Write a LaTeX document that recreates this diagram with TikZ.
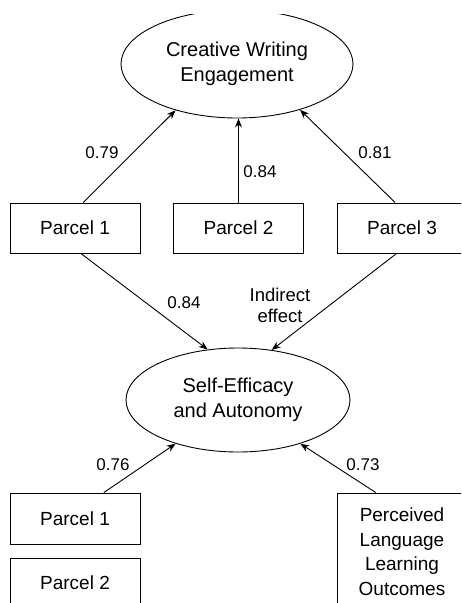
\documentclass[tikz,border=0pt]{standalone}
\usepackage{fontspec}
\setmainfont{Liberation Sans}
\usetikzlibrary{shapes.geometric,arrows.meta}
\begin{document}
\begin{tikzpicture}[x=1pt,y=-1pt,
  lat/.style={ellipse,draw,line width=0.9pt,inner sep=0pt,align=center,font=\fontsize{20}{25}\selectfont},
  obs/.style={rectangle,draw,line width=0.9pt,minimum width=130pt,minimum height=50pt,inner sep=0pt,align=center,font=\fontsize{19}{24.5}\selectfont},
  path/.style={line width=0.9pt,-{Stealth[length=9pt,width=7pt]}},
  coef/.style={font=\fontsize{17}{20}\selectfont,inner sep=0pt},
  note/.style={font=\fontsize{18.5}{21}\selectfont,inner sep=0pt,align=center}]
\useasboundingbox (0,0) rectangle (461,603);
\fill[white] (0,0) rectangle (461,603);
\clip (0,14) rectangle (461,603);
% latent variables
\node[lat,minimum width=232pt,minimum height=108pt] (cwe) at (237,64) {Creative Writing\\Engagement};
\node[lat,minimum width=224pt,minimum height=104pt] (sea) at (238,400) {Self-Efficacy\\and Autonomy};
% observed row 1
\node[obs] (pa) at (75,228) {Parcel 1};
\node[obs] (pb) at (238.5,228) {Parcel 2};
\node[obs] (pc) at (402,228) {Parcel 3};
% bottom row
\node[obs,minimum height=51pt] (pd) at (75,518.5) {Parcel 1};
\node[obs] (pe) at (75,583) {Parcel 2};
\node[obs,minimum height=117pt] (pf) at (402,551.5) {Perceived\\Language\\Learning\\Outcomes};
% paths to Creative Writing Engagement
\draw[path] (pa.72) -- (cwe.217);
\draw[path] (pb.north) -- (pb.north |- cwe.south);
\draw[path] (pc.105.6) -- (cwe.324.4);
% paths to Self-Efficacy
\draw[path] (pa.283.5) -- (sea.121.8);
\draw[path] (pc.258.7) -- (sea.56.6);
\draw[path] (pd.42.3) -- (sea.215.7);
\draw[path] (pf.114.8) -- (sea.325.1);
% coefficients
\node[coef] (c1) at (102,153) {0.79};
\node[coef] (c2) at (260,172) {0.84};
\node[coef] (c3) at (375,153) {0.81};
\node[coef] (c4) at (184,303) {0.84};
\node[note] (ie) at (280,305) {Indirect\\effect};
\node[coef] (c5) at (113,465) {0.76};
\node[coef] (c6) at (363,465) {0.73};
\end{tikzpicture}
\end{document}
